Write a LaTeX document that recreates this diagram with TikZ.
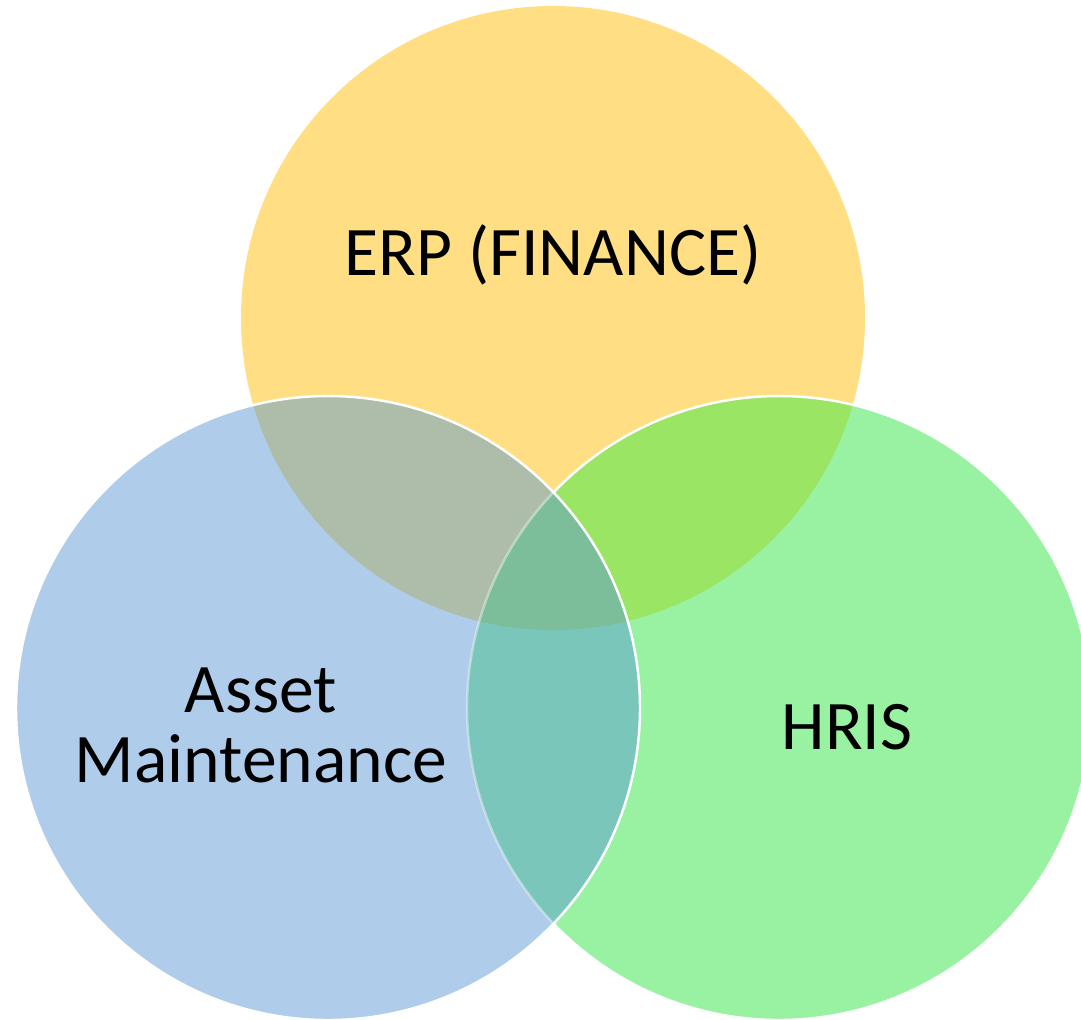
\documentclass[tikz,border=0pt]{standalone}
\usepackage{fontspec}
\setmainfont{Carlito}
\definecolor{ercol}{HTML}{FFDE84}
\definecolor{assetcol}{HTML}{AFCCEA}
\definecolor{hriscol}{HTML}{99F2A1}
\definecolor{ergreen}{HTML}{9BE565}
\definecolor{erasset}{HTML}{ADBDA9}
\definecolor{assethris}{HTML}{7BC6BB}
\definecolor{allthree}{HTML}{7CBE99}
\tikzset{
  ring/.style={draw=white, line width=0.7pt},
  label/.style={font=\fontsize{19.8pt}{19.8pt}\selectfont, align=center, anchor=base}
}
\begin{document}
\begin{tikzpicture}
        \useasboundingbox (0,0) rectangle (10.81,-10.19);
        \def\rad{3.12cm}
        \coordinate (erp) at (5.53,-3.18);
        \coordinate (asset) at (3.28,-7.08);
        \coordinate (hris) at (7.79,-7.08);
        % top circle, then right circle over it
        \fill[ercol] (erp) circle (\rad);
        \fill[hriscol] (hris) circle (\rad);
        \begin{scope}
            \clip (erp) circle (\rad);
            \fill[ergreen] (hris) circle (\rad);
        \end{scope}
        \draw[ring] (hris) circle (\rad);
        % left circle on top
        \fill[assetcol] (asset) circle (\rad);
        \begin{scope}
            \clip (asset) circle (\rad);
            \fill[erasset] (erp) circle (\rad);
            \fill[assethris] (hris) circle (\rad);
            \clip (hris) circle (\rad);
            \fill[allthree] (erp) circle (\rad);
        \end{scope}
        \begin{scope}
            \clip (asset) circle (\rad);
            \draw[white, opacity=0.4, line width=0.7pt] (hris) circle (\rad);
        \end{scope}
        \draw[ring] (asset) circle (\rad);
        % labels
        \node[label] (erplabel) at (5.53,-2.75) {ERP (FINANCE)};
        \node[label] (assetlabel) at (2.61,-7.82) {Asset\\Maintenance};
        \node[label] (hrislabel) at (8.47,-7.49) {HRIS};
\end{tikzpicture}
\end{document}
